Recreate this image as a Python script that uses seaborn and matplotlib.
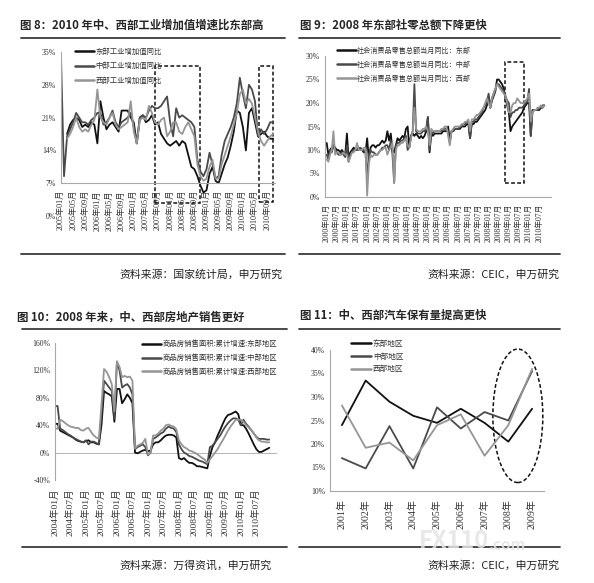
import numpy as np
import pandas as pd
import seaborn as sns
import matplotlib
matplotlib.use('Agg')
import matplotlib.pyplot as plt
from matplotlib.lines import Line2D
from matplotlib.patches import Rectangle, Ellipse

nan = np.nan

# ---------------- Panel 1: industrial value added yoy (2005-01 .. 2010-11) ----------------
p1_labels = ['东部工业增加值同比', '中部工业增加值同比', '西部工业增加值同比']
p1_east = [nan, nan, 17.5, 19.5, 20.5, 21, 20.5, 19, 19.5, 19, 20, 19.5,
           15.5, 24.5, 21, 18.5, 19.5, 20, 19, 18, 22.5, 22.5, 22.5, 21,
           20, 15.5, 21, 21.5, 20, 20.5, 21.5, 19.5, 20, 17.5, 16.5, 15.5,
           15, 15.5, 16, 15, 16, 15.5, 13, 10.5, 10, 8.5, 6.5, 5,
           5.5, 9, 10.5, 7.5, 7, 9, 11, 12.5, 15, 18, 22.5, 22,
           19, 14, 22, 23, 20, 17, 17.5, 18, 17, 16.5, 16.5]
p1_central = [34, 8.5, 17, 18.5, 20, 22, 21, 20, 20, 19.5, 20.5, 21,
              22, 22, 19.5, 20, 21, 22.5, 20, 19, 20, 20.5, 21, 22,
              19, 15.5, 21, 21.5, 21, 22.5, 23.5, 23, 23, 23.5, 24.5, 25.5,
              20, 17, 23, 21, 21.5, 21, 20.5, 20, 19, 12, 9.5, 8.5,
              10, 13.5, 11, 8, 8.5, 13, 16, 17.5, 19, 21, 24, 29.5,
              26, 23, 28, 27, 24.5, 17, 18.5, 17.5, 18.5, 20, 20]
p1_west = [nan, nan, 16.5, 17.5, 19, 21, 19, 18, 18.5, 18, 19.5, 20.5,
           27, 21, 20, 19.5, 21, 22, 19.5, 18.5, 19, 19.5, 20, 24.5,
           18, 15.5, 20.5, 21, 20.5, 23.5, 22, 20, 19.5, 20.5, 21, 17,
           18, 20, 20, 18, 17.5, 19, 20, 18.5, 17, 11, 8.5, 7.5,
           8, 10.5, 12, 8, 8, 11, 13, 15, 17, 19.5, 22, 26,
           27, 24, 25, 24, 21, 18, 16, 15, 16, 17, 17.5]
p1_ticklabels = ['2005年01月', '2005年05月', '2005年09月', '2006年01月', '2006年05月', '2006年09月',
                 '2007年01月', '2007年05月', '2007年09月', '2008年01月', '2008年05月', '2008年09月',
                 '2009年01月', '2009年05月', '2009年09月', '2010年01月', '2010年05月', '2010年09月']

# ---------------- Panel 2: retail sales yoy (2000-01 .. 2010-10) ----------------
p2_labels = ['社会消费品零售总额当月同比：东部', '社会消费品零售总额当月同比：中部', '社会消费品零售总额当月同比：西部']
p2_east = [11.5, 9, 10, 10.5, 11, 10.5, 10, 10, 9.5, 10, 9.5, 9,
           13.5, 8, 9.5, 10, 10.5, 10, 10, 10.5, 10, 10, 9.5, 9.5,
           12.5, 8, 10.5, 11, 11, 10.5, 11, 11, 11.5, 12, 11.5, 12,
           14, 12, 13.5, 10, 9.5, 11, 12.5, 12, 12.5, 13, 12.5, 14.5,
           15, 10.5, 13, 13.5, 13, 13.5, 13, 12.5, 13, 12.5, 13, 14,
           17, 9.5, 13.5, 13, 13.5, 13.5, 13.5, 13.5, 13.5, 14, 14, 14,
           15, 12, 14, 14, 14.5, 14.5, 14.5, 14.5, 15, 15, 15, 15.5,
           15.5, 12.5, 15.5, 15.5, 16, 16, 16.5, 17, 17.5, 18, 18.5, 19.5,
           21.5, 19, 20.5, 21.5, 22.5, 25, 25, 24.5, 24, 23, 21, 19.5,
           18, 14, 15, 15.5, 16, 16.5, 17, 17.5, 18, 19, 19.5, 20,
           20, 13, 18.5, 18.5, 18.5, 18.5, 18.5, 19, 19, 19.5]
p2_central = [9, 8, 10, 9.5, 11, 10, 9.5, 9, 9, 9.5, 9, 8.5,
              11, 7.5, 9, 9.5, 10, 10, 10, 10, 10.5, 10, 10, 9.5,
              4, 9, 10, 9.5, 9.5, 9, 9, 9.5, 10, 10.5, 10.5, 11,
              11, 10, 12, 9, 3, 11, 11.5, 11.5, 12, 12, 12.5, 13,
              10, 11, 13, 14, 24, 14, 13.5, 13.5, 13.5, 14, 14, 14.5,
              17, 10, 14, 13.5, 14, 14, 14, 14, 14, 14.5, 14.5, 14.5,
              14, 11.5, 14, 14, 14.5, 14.5, 14.5, 15, 15, 15.5, 15.5, 16,
              16, 12.5, 16, 16, 16.5, 16.5, 17, 17.5, 18, 19, 19.5, 20,
              22, 19, 21, 22, 23, 24, 24, 23.5, 23, 22.5, 21.5, 20.5,
              20, 17, 18, 18, 18.5, 18.5, 19, 19, 19, 19.5, 20, 20.5,
              23, 13, 18, 18.5, 18.5, 18.5, 19, 19, 19.5, 19.5]
p2_west = [8, 7.5, 9, 10, 14, 9, 9.5, 9.5, 9, 9, 9.5, 9,
           9, 7.5, 8.5, 9.5, 9.5, 10, 11.5, 10, 10, 10, 10.5, 10.5,
           0.3, 7, 9, 8.5, 9, 9, 9, 9.5, 10, 10, 10.5, 10.5,
           9, 10, 10.5, 11.5, 3, 10, 11, 11, 11.5, 11.5, 12, 12.5,
           11, 10.5, 12.5, 14, 19, 14.5, 14, 14, 14, 14.5, 14.5, 15,
           14, 11, 14.5, 14, 14, 14, 14, 14, 14.5, 14.5, 15, 15,
           13, 11, 14, 14.5, 15, 15, 15, 15, 15.5, 15.5, 16, 16,
           16.5, 14, 16.5, 16.5, 17, 17.5, 17.5, 18, 18.5, 19, 20, 21,
           20, 19, 21, 22, 23, 24, 23.5, 23, 22.5, 22, 21.5, 20,
           18, 18, 19.5, 20, 20, 21, 20.5, 20, 20, 20, 20.5, 21,
           22, 16, 18, 18.5, 18.5, 19, 19, 19.5, 19, 19.5]
p2_ticklabels = ['2000年01月', '2000年07月', '2001年01月', '2001年07月', '2002年01月', '2002年07月',
                 '2003年01月', '2003年07月', '2004年01月', '2004年07月', '2005年01月', '2005年07月',
                 '2006年01月', '2006年07月', '2007年01月', '2007年07月', '2008年01月', '2008年07月',
                 '2009年01月', '2009年07月', '2010年01月', '2010年07月']

# ---------------- Panel 3: housing sales area cumulative growth (2004-01 .. 2010-12) ----------------
p3_labels = ['商品房销售面积:累计增速:东部地区', '商品房销售面积:累计增速:中部地区', '商品房销售面积:累计增速:西部地区']
p3_east = [42, 42, 32, 30, 28, 26, 24, 22, 19, 17, 16, 15,
           17, 18, 15, 15, 13, 12, 40, 90, 87, 85, 82, 45,
           93, 93, 72, 78, 85, 80, 72, 0, -1, 1, 3, 4,
           2, 3, 12, 15, 15, 18, 22, 25, 26, 26, 25, 22,
           -8, -10, -8, -12, -15, -15, -17, -20, -20, -21, -22, -23,
           -5, 8, 15, 25, 33, 42, 50, 55, 56, 58, 60, 56,
           40, 40, 35, 28, 20, 12, 5, 1, 1, 3, 5, 7]
p3_central = [68, 68, 35, 33, 30, 27, 25, 22, 20, 18, 16, 15,
              18, 12, 16, 16, 14, 12, 55, 105, 100, 95, 90, 50,
              133, 120, 95, 98, 100, 95, 85, 5, 8, 10, 12, 8,
              -4, 0, 20, 22, 25, 28, 30, 35, 38, 36, 35, 30,
              12, 5, 0, -2, -5, -6, -8, -10, -12, -13, -15, -17,
              8, 10, 15, 20, 25, 32, 38, 43, 47, 50, 50, 48,
              40, 48, 42, 38, 33, 28, 23, 20, 20, 20, 19, 19]
p3_west = [35, 35, 48, 46, 43, 40, 38, 37, 36, 36, 33, 32,
           35, 36, 30, 25, 22, 20, 70, 122, 118, 110, 100, 60,
           133, 125, 110, 112, 110, 111, 105, 6, 10, 12, 14, 20,
           -3, 0, 25, 25, 28, 32, 35, 40, 41, 39, 38, 34,
           18, 12, 8, 6, 3, 2, 0, -2, -5, -8, -10, -15,
           -10, -5, 0, 5, 12, 18, 25, 32, 38, 43, 48, 48,
           48, 45, 40, 37, 33, 28, 22, 18, 16, 16, 15, 15]
p3_ticklabels = ['2004年01月', '2004年07月', '2005年01月', '2005年07月', '2006年01月', '2006年07月',
                 '2007年01月', '2007年07月', '2008年01月', '2008年07月', '2009年01月', '2009年07月',
                 '2010年01月', '2010年07月']

# ---------------- Panel 4: vehicle ownership growth ----------------
p4_labels = ['东部地区', '中部地区', '西部地区']
p4_years = ['2001年', '2002年', '2003年', '2004年', '2005年', '2006年', '2007年', '2008年', '2009年']
p4_east = [24, 33.5, 29, 26, 24.5, 27.5, 24.5, 20.5, 27.5]
p4_central = [17, 14.8, 23.8, 14.8, 27.8, 23.3, 26.8, 25, 35.5]
p4_west = [28.2, 19.2, 20.3, 16.5, 24, 26.3, 17.5, 24, 36]

# ---------------- styling ----------------
sns.set_style('white')
plt.rcParams['font.family'] = ['Noto Sans CJK SC', 'DejaVu Sans']
plt.rcParams['axes.unicode_minus'] = False

COLS = ['#111111', '#4a4a4a', '#959595']
TICKFAM = ['Liberation Serif', 'Noto Sans CJK SC']
W, H = 594, 583

fig = plt.figure(figsize=(W / 100, H / 100), dpi=100)


def fx(px):
    return px / W


def fy(py):
    return 1 - py / H


def axes_px(l, t, r, b):
    return fig.add_axes([fx(l), fy(b), (r - l) / W, (b - t) / H])


def hline(x0, x1, y, lw=1.3):
    fig.add_artist(Line2D([fx(x0), fx(x1)], [fy(y), fy(y)], color='#3a3a3a', lw=lw))


def style_ax(ax):
    for s in ['top', 'right']:
        ax.spines[s].set_visible(False)
    for s in ['left', 'bottom']:
        ax.spines[s].set_color('#a8a8a8')
        ax.spines[s].set_linewidth(0.8)
    ax.tick_params(axis='both', direction='out', length=2, width=0.6, color='#a8a8a8',
                   pad=1.5, labelcolor='#333333')


def draw_lines(ax, x, series, labels):
    for s, lab, c in zip(series, labels, COLS):
        df = pd.DataFrame({'x': x, 'y': s})
        sns.lineplot(data=df, x='x', y='y', ax=ax, color=c, lw=1.3, label=lab)
    ax.set_xlabel('')
    ax.set_ylabel('')


def set_yfmt(ax, ticks, fs=5.6):
    ax.set_yticks(ticks)
    ax.set_yticklabels([f'{int(t)}%' for t in ticks], fontsize=fs, family=TICKFAM)


def legend(ax, x, y, fs=5.3, spacing=0.75):
    leg = ax.legend(loc='upper left', bbox_to_anchor=(x, y), frameon=False, fontsize=fs,
                    handlelength=2.6, handletextpad=0.2, labelspacing=spacing,
                    borderaxespad=0, borderpad=0)
    for h in leg.get_lines():
        h.set_linewidth(1.8)
    for t in leg.get_texts():
        t.set_color('#333333')


# ---------- Panel 1 ----------
fig.text(fx(20), fy(25), '图 8：2010 年中、西部工业增加值增速比东部高', fontsize=8.2, weight='bold', va='center')
hline(21, 285, 38)
hline(21, 285, 254)
fig.text(fx(283), fy(275), '资料来源：国家统计局，申万研究', fontsize=7.8, ha='right', va='center', color='#222')

ax1 = axes_px(61, 52, 275, 216)
x1 = np.arange(len(p1_east))
draw_lines(ax1, x1, [p1_east, p1_central, p1_west], p1_labels)
style_ax(ax1)
ax1.set_xlim(0, 70.6)
ax1.set_ylim(0, 35)
ax1.spines['bottom'].set_position(('data', 7))
ax1.spines['left'].set_bounds(7, 35)
set_yfmt(ax1, [0, 7, 14, 21, 28, 35])
ax1.set_xticks(np.arange(0, 69, 4))
ax1.set_xticklabels(p1_ticklabels, rotation=90, fontsize=5.9, family=TICKFAM)
ax1.tick_params(axis='x', pad=3)
legend(ax1, 0.065, 1.025, spacing=0.85)
ax1.add_patch(Rectangle((31, 2.8), 15, 29.2, fill=False, ls=(0, (2.5, 1.5)), lw=1.1, ec='#111', clip_on=False))
ax1.add_patch(Rectangle((65.3, 3), 4.7, 29, fill=False, ls=(0, (2.5, 1.5)), lw=1.1, ec='#111', clip_on=False))

# ---------- Panel 2 ----------
fig.text(fx(300), fy(25), '图 9：2008 年东部社零总额下降更快', fontsize=8.2, weight='bold', va='center')
hline(299, 560, 38)
hline(299, 560, 254)
fig.text(fx(560), fy(275), '资料来源：CEIC，申万研究', fontsize=7.8, ha='right', va='center', color='#222')

ax2 = axes_px(325, 56, 551, 197)
x2 = np.arange(len(p2_east))
draw_lines(ax2, x2, [p2_east, p2_central, p2_west], p2_labels)
style_ax(ax2)
ax2.set_xlim(-1, 133)
ax2.set_ylim(0, 30)
set_yfmt(ax2, [0, 5, 10, 15, 20, 25, 30])
ax2.set_xticks(np.arange(0, 127, 6))
ax2.set_xticklabels(p2_ticklabels, rotation=90, fontsize=5.6, family=TICKFAM)
ax2.tick_params(axis='x', pad=3)
legend(ax2, 0.055, 1.065, fs=5.1, spacing=0.85)
ax2.add_patch(Rectangle((106, 3), 11, 25.7, fill=False, ls=(0, (2.5, 1.5)), lw=1.1, ec='#111', clip_on=False))

# ---------- Panel 3 ----------
fig.text(fx(17), fy(317), '图 10：2008 年来，中、西部房地产销售更好', fontsize=8.2, weight='bold', va='center')
hline(22, 287, 329)
hline(22, 287, 547)
fig.text(fx(272), fy(566), '资料来源：万得资讯，申万研究', fontsize=7.8, ha='right', va='center', color='#222')

ax3 = axes_px(55, 343, 277, 480)
x3 = np.arange(len(p3_east))
ax3.axhline(0, color='#b8b8b8', lw=0.8, zorder=0)
draw_lines(ax3, x3, [p3_east, p3_central, p3_west], p3_labels)
style_ax(ax3)
ax3.spines['bottom'].set_visible(False)
ax3.set_xlim(0, 86)
ax3.set_ylim(-40, 160)
set_yfmt(ax3, [-40, 0, 40, 80, 120, 160])
ax3.set_xticks(np.arange(0, 79, 6))
ax3.set_xticklabels(p3_ticklabels, rotation=90, fontsize=6.8, family=TICKFAM)
ax3.tick_params(axis='x', length=0, pad=6)
legend(ax3, 0.39, 1.02, fs=5.3, spacing=0.8)

# ---------- Panel 4 ----------
fig.text(fx(300), fy(315), '图 11：中、西部汽车保有量提高更快', fontsize=8.2, weight='bold', va='center')
hline(299, 560, 329)
hline(299, 560, 547)
fig.text(fx(560), fy(566), '资料来源：CEIC，申万研究', fontsize=7.8, ha='right', va='center', color='#222')

ax4 = axes_px(330, 350, 544, 491)
x4 = np.arange(len(p4_years))
draw_lines(ax4, x4, [p4_east, p4_central, p4_west], p4_labels)
style_ax(ax4)
ax4.set_xlim(-0.5, 8.5)
ax4.set_ylim(10, 40)
set_yfmt(ax4, [10, 15, 20, 25, 30, 35, 40])
ax4.set_xticks(x4)
ax4.set_xticklabels(p4_years, rotation=90, fontsize=7.2, family=TICKFAM)
ax4.set_xticks(np.arange(-0.5, 9, 1), minor=True)
ax4.tick_params(axis='x', which='major', length=0, pad=6)
ax4.tick_params(axis='x', which='minor', length=2, width=0.6, color='#a8a8a8')
legend(ax4, 0.10, 1.07, fs=5.5, spacing=0.6)
ax4.add_patch(Ellipse((7.4, 26), 2.1, 28.4, fill=False, ls=(0, (2.5, 1.5)), lw=1.1, ec='#111', clip_on=False))

# watermark
fig.text(fx(419), fy(541), 'FX110', fontsize=17, weight='bold', color='#e4e4e4', va='center', zorder=20, alpha=0.85)
fig.text(fx(489), fy(545), '.com', fontsize=11, weight='bold', color='#e4e4e4', va='center', zorder=20, alpha=0.85)

fig.savefig('out.png', dpi=100, facecolor='white')
